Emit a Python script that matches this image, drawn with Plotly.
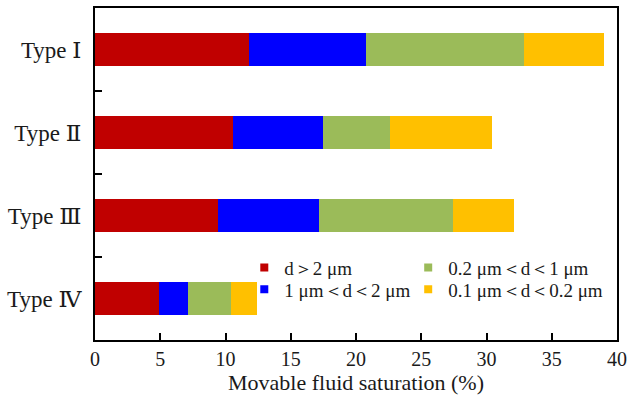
import plotly.graph_objects as go

categories = ["Type Ⅰ", "Type Ⅱ", "Type Ⅲ", "Type Ⅳ"]
series_names = ["d＞2 μm", "1 μm＜d＜2 μm", "0.2 μm＜d＜1 μm", "0.1 μm＜d＜0.2 μm"]
d_gt_2 = [11.8, 10.6, 9.4, 4.9]
d_1_2 = [9.0, 6.9, 7.8, 2.2]
d_02_1 = [12.1, 5.1, 10.2, 3.3]
d_01_02 = [6.1, 7.8, 4.7, 2.0]
colors = ["#C00000", "#0000FF", "#9BBB59", "#FFC000"]
x_ticks = [0, 5, 10, 15, 20, 25, 30, 35, 40]

font_family = "Liberation Serif, DejaVu Serif, Times New Roman, serif"
fig = go.Figure()
values = [d_gt_2, d_1_2, d_02_1, d_01_02]
legends = ["legend", "legend2", "legend3", "legend4"]
for name, vals, col, lg in zip(series_names, values, colors, legends):
    fig.add_trace(go.Bar(y=categories, x=vals, orientation="h", name=name,
                         marker=dict(color=col, line=dict(width=0)),
                         showlegend=False))
    fig.add_trace(go.Scatter(x=[None], y=[None], mode="markers", name=name,
                             marker=dict(symbol="square", size=8, color=col),
                             legend=lg, showlegend=True))

legend_style = dict(yanchor="top", xanchor="left", bgcolor="rgba(0,0,0,0)",
                    font=dict(size=19, family=font_family, color="#1a1a1a"),
                    traceorder="normal", tracegroupgap=0, itemwidth=30, borderwidth=0)
fig.update_layout(
    width=633, height=406,
    margin=dict(l=95, r=13, t=6, b=66),
    barmode="stack", bargap=0.6,
    plot_bgcolor="white", paper_bgcolor="white",
    font=dict(family=font_family, size=20, color="#1a1a1a"),
    legend=dict(x=0.286, y=0.275, **legend_style),
    legend2=dict(x=0.286, y=0.2096, **legend_style),
    legend3=dict(x=0.60, y=0.275, **legend_style),
    legend4=dict(x=0.60, y=0.2096, **legend_style),
)
fig.update_xaxes(range=[0, 40], tickvals=x_ticks, ticks="inside", ticklen=7, tickwidth=1.5,
                 tickcolor="black",
                 showline=True, linecolor="black", linewidth=2, mirror=True,
                 showgrid=False, zeroline=False,
                 tickfont=dict(size=20, family=font_family),
                 title=dict(text="Movable fluid saturation (%)",
                            font=dict(size=22, family=font_family), standoff=4))
fig.update_yaxes(categoryorder="array", categoryarray=categories, autorange="reversed",
                 ticks="inside", ticklen=7, tickwidth=1.5, tickcolor="black",
                 tickson="boundaries",
                 showline=True, linecolor="black", linewidth=2, mirror=True,
                 showgrid=False, tickfont=dict(size=23, family=font_family),
                 ticklabelstandoff=7)

fig.write_html("out.html")
